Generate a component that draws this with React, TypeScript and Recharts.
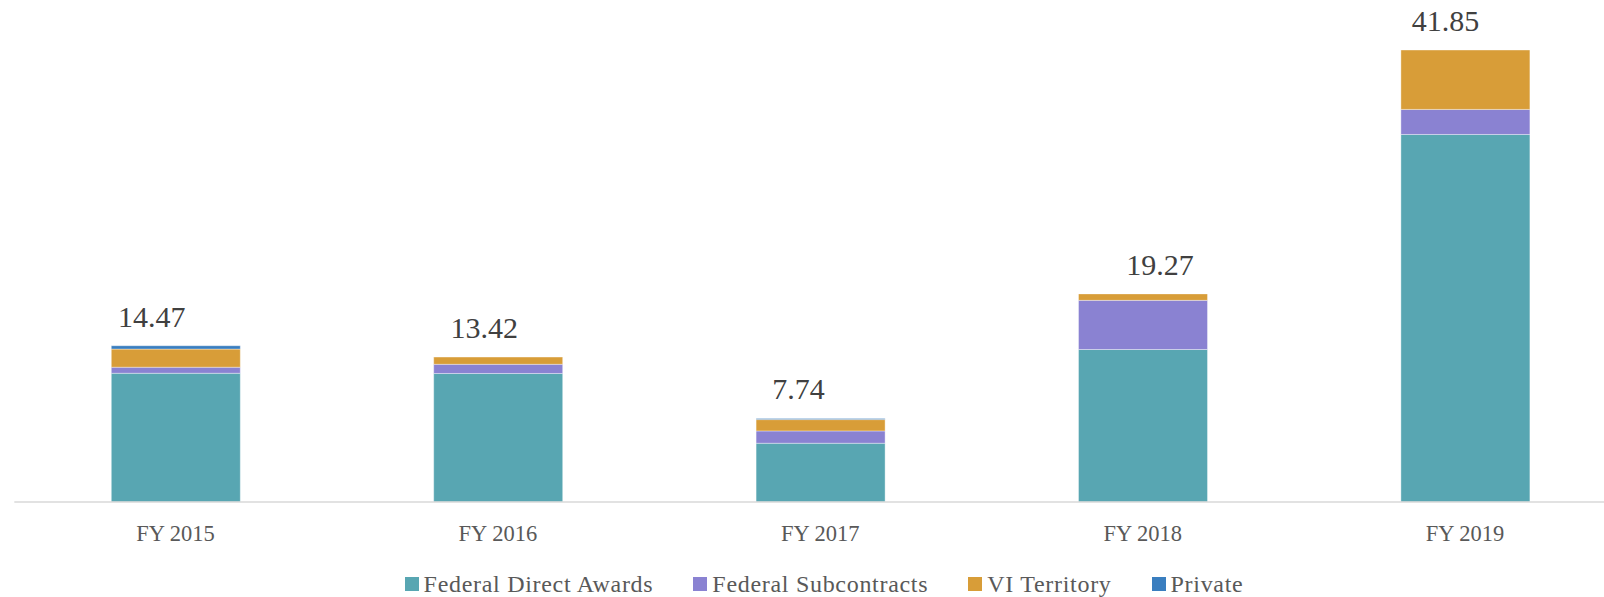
import React from 'react';
import { BarChart, Bar, XAxis, YAxis, LabelList } from 'recharts';

const years = ['FY 2015', 'FY 2016', 'FY 2017', 'FY 2018', 'FY 2019'];
const federalDirect = [11.92, 11.9, 5.44, 14.12, 34.03];
const federalSub = [0.56, 0.85, 1.14, 4.55, 2.32];
const viTerritory = [1.68, 0.67, 1.05, 0.6, 5.5];
const privateFunds = [0.31, 0, 0.11, 0, 0];
const totals = [14.47, 13.42, 7.74, 19.27, 41.85];

// manual horizontal nudge of the total labels, as placed in the source chart
const totalLabelDx = [-24, -14, -22, 17, -20];

const series = [
  { key: 'direct', name: 'Federal Direct Awards', color: '#58A6B2' },
  { key: 'sub', name: 'Federal Subcontracts', color: '#8A82D2' },
  { key: 'vi', name: 'VI Territory', color: '#D89D38' },
  { key: 'private', name: 'Private', color: '#3A7EBF' },
];

const data = years.map((year, i) => ({
  year,
  direct: federalDirect[i],
  sub: federalSub[i],
  vi: viTerritory[i],
  private: privateFunds[i],
  total: totals[i],
}));

const FONT = '"Liberation Serif", "Times New Roman", serif';

// Attached to the bottom segment (always non-zero); the stack top is found
// from that segment's own pixel-per-unit ratio.
const renderTotal = (props: any) => {
  const { x, y, width, height, index } = props;
  const i = typeof index === 'number' ? index : 0;
  const ratio = Number(height) / federalDirect[i];
  const top = Number(y) - (totals[i] - federalDirect[i]) * ratio;
  return (
    <text
      x={Number(x) + Number(width) / 2 + (totalLabelDx[i] || 0)}
      y={top - 19}
      textAnchor="middle"
      fontFamily={FONT}
      fontSize={30}
      fill="#404040"
    >
      {totals[i].toFixed(2)}
    </text>
  );
};

export default function App() {
  return (
    <div
      style={{
        position: 'fixed',
        left: 0,
        top: 0,
        width: 1604,
        height: 597,
        overflow: 'hidden',
        background: '#fff',
      }}
    >
      <BarChart
        width={1640}
        height={597}
        data={data}
        margin={{ top: 16, right: 13.7, left: 14.3, bottom: 35 }}
      >
        <XAxis
          dataKey="year"
          height={60}
          tickLine={false}
          tickSize={0}
          tickMargin={23}
          axisLine={{ stroke: '#D9D9D9', strokeWidth: 1.5 }}
          tick={{ fill: '#595959', fontSize: 22.5, fontFamily: FONT }}
          interval={0}
        />
        <YAxis hide domain={[0, 45]} />
        {series.map((s, idx) => (
          <Bar
            key={s.key}
            dataKey={s.key}
            name={s.name}
            stackId="a"
            fill={s.color}
            barSize={129}
            stroke="#ffffff"
            strokeOpacity={0.5}
            strokeWidth={0.75}
            isAnimationActive={false}
          >
            {idx === 0 && <LabelList dataKey="total" content={renderTotal} />}
          </Bar>
        ))}
      </BarChart>
      <div
        style={{
          position: 'absolute',
          left: 0,
          top: 571.5,
          width: 1648,
          display: 'flex',
          justifyContent: 'center',
          alignItems: 'center',
          gap: 40,
          fontFamily: FONT,
          fontSize: 24,
          lineHeight: '24px',
          color: '#595959',
        }}
      >
        {series.map((s) => (
          <div key={s.key} style={{ display: 'flex', alignItems: 'center' }}>
            <span
              style={{
                width: 14,
                height: 14,
                background: s.color,
                marginRight: 5,
                display: 'inline-block',
              }}
            />
            <span style={{ letterSpacing: 0.7 }}>{s.name}</span>
          </div>
        ))}
      </div>
    </div>
  );
}
